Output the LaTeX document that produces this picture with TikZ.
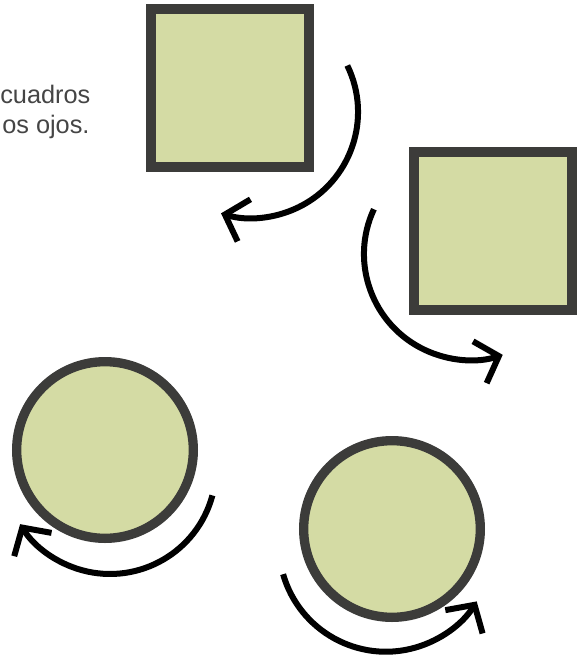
\documentclass[tikz,border=0pt]{standalone}
\usepackage{fontspec}
\setmainfont{Liberation Sans}
\usetikzlibrary{arrows.meta,positioning}

\definecolor{leaf}{HTML}{D4DBA4}
\definecolor{rim}{HTML}{3C3C3A}
\definecolor{ink}{HTML}{454545}

\begin{document}
\begin{tikzpicture}[x=0.75pt, y=-0.75pt]

   \tikzstyle{sq}=[rectangle, fill=leaf, draw=rim, line width=7.5pt, minimum size=118.5pt, inner sep=0pt]
   \tikzstyle{rd}=[circle, fill=leaf, draw=rim, line width=7pt, minimum size=132.5pt, inner sep=0pt]
   \tikzstyle{turn}=[line width=4.5pt, black, -{Straight Barb[length=15pt, width=33pt]}]
   \tikzstyle{txt}=[anchor=base west, inner sep=0pt, text=ink, font=\fontsize{19}{22}\selectfont]

   \useasboundingbox (0,0) rectangle (585,662);

   % text, cut at the left edge
   \node[txt] (t1) at (0,103) {cuadros};
   \node[txt] (t2) at (2,133) {os ojos.};

   % shapes
   \node[sq] (s1) at (229.5,87.5) {};
   \node[sq] (s2) at (492.5,231)  {};
   \node[rd] (c1) at (105,450)    {};
   \node[rd] (c2) at (392,529)    {};

   % turning arrows
   \coordinate (a1) at (347.3,65.5);
   \coordinate (a2) at (373.9,209.2);
   \coordinate (a3) at (212.4,495.4);
   \coordinate (a4) at (283.1,574.2);

   \draw[turn] (a1) arc[start angle=-26, end angle=107, radius=106];
   \draw[turn] (a2) arc[start angle=205, end angle=72, radius=106];
   \draw[turn] (a3) arc[start angle=15, end angle=148, radius=106];
   \draw[turn] (a4) arc[start angle=164, end angle=32, radius=107];
\end{tikzpicture}
\end{document}
